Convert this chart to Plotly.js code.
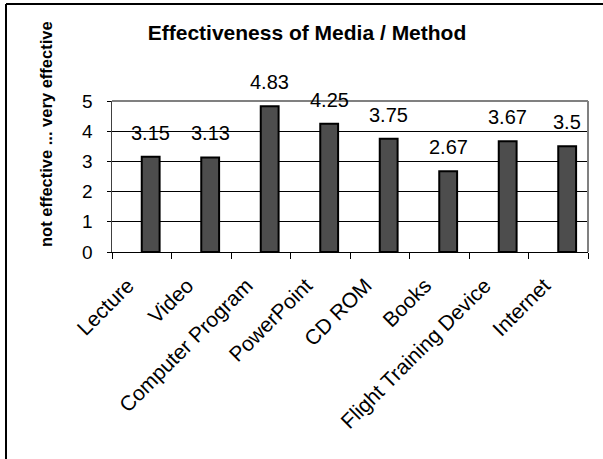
<!DOCTYPE html>
<html>
<head>
<meta charset="utf-8">
<script src="https://cdn.plot.ly/plotly-3.0.1.min.js"></script>
<style>html,body{margin:0;padding:0;background:#fff;}#chart{width:603px;height:459px;}</style>
</head>
<body>
<div id="chart"></div>
<script>
const categories = ["Lecture", "Video", "Computer Program", "PowerPoint", "CD ROM", "Books", "Flight Training Device", "Internet"];
const values = [3.15, 3.13, 4.83, 4.25, 3.75, 2.67, 3.67, 3.5];
const valueLabels = ["3.15", "3.13", "4.83", "4.25", "3.75", "2.67", "3.67", "3.5"];
const yTicks = [0, 1, 2, 3, 4, 5];

const FONT = "Liberation Sans, Arial, sans-serif";
const W = 603, H = 459;
const L = 112, R = 15, T = 101, B = 207;
const pw = W - L - R, ph = H - T - B;
const px = x => (x - L) / pw;
const py = y => (H - B - y) / ph;

const trace = {
  type: "bar",
  x: categories,
  y: values,
  width: 0.3,
  offset: 0,
  marker: { color: "#4d4d4d", line: { color: "#000000", width: 2 } },
  hoverinfo: "x+y"
};

const annotations = categories.map((c, i) => ({
  x: c, y: values[i], xref: "x", yref: "y",
  text: valueLabels[i], showarrow: false,
  xshift: 9, yshift: 11, yanchor: "bottom", xanchor: "center",
  font: { family: FONT, size: 20, color: "#000" }
}));
annotations.push({
  xref: "paper", yref: "paper", x: px(46), y: py(134),
  text: "<b>not effective ... very effective</b>", textangle: -90,
  showarrow: false, xanchor: "center", yanchor: "middle",
  font: { family: FONT, size: 16.5, color: "#000" }
});

const layout = {
  width: W, height: H,
  margin: { l: L, r: R, t: T, b: B, pad: 0 },
  paper_bgcolor: "#ffffff", plot_bgcolor: "#ffffff",
  showlegend: false,
  title: {
    text: "<b>Effectiveness of Media / Method</b>",
    xref: "container", yref: "container",
    x: 307 / W, y: 1 - 33 / H, xanchor: "center", yanchor: "middle",
    font: { family: FONT, size: 21, color: "#000" }
  },
  xaxis: {
    type: "category",
    tickangle: -45,
    tickson: "boundaries",
    ticks: "outside", ticklen: 6, tickwidth: 1, tickcolor: "#000",
    showline: true, linecolor: "#000", linewidth: 1,
    showgrid: false,
    ticklabelstandoff: 12,
    ticklabelshift: -14,
    tickfont: { family: FONT, size: 21, color: "#000" }
  },
  yaxis: {
    range: [0, 5],
    tickvals: yTicks, ticktext: yTicks.map(String),
    ticks: "outside", ticklen: 4, tickwidth: 1, tickcolor: "#000",
    showline: true, linecolor: "#404040", linewidth: 1.5,
    showgrid: true, gridcolor: "#000", gridwidth: 1,
    zeroline: false,
    ticklabelstandoff: 10,
    tickfont: { family: FONT, size: 19, color: "#000" }
  },
  annotations: annotations,
  shapes: [
    { type: "line", xref: "paper", yref: "paper", x0: 0, x1: 1, y0: 1, y1: 1, line: { color: "#808080", width: 2 } },
    { type: "line", xref: "paper", yref: "paper", x0: 1, x1: 1, y0: 0, y1: 1, line: { color: "#808080", width: 2 } },
    { type: "line", xref: "paper", yref: "paper", x0: px(6), x1: px(603), y0: py(4), y1: py(4), line: { color: "#000", width: 2 } },
    { type: "line", xref: "paper", yref: "paper", x0: px(6), x1: px(6), y0: py(4), y1: py(459), line: { color: "#000", width: 2 } }
  ]
};

Plotly.newPlot("chart", [trace], layout, { displayModeBar: false, staticPlot: true });
</script>
</body>
</html>
